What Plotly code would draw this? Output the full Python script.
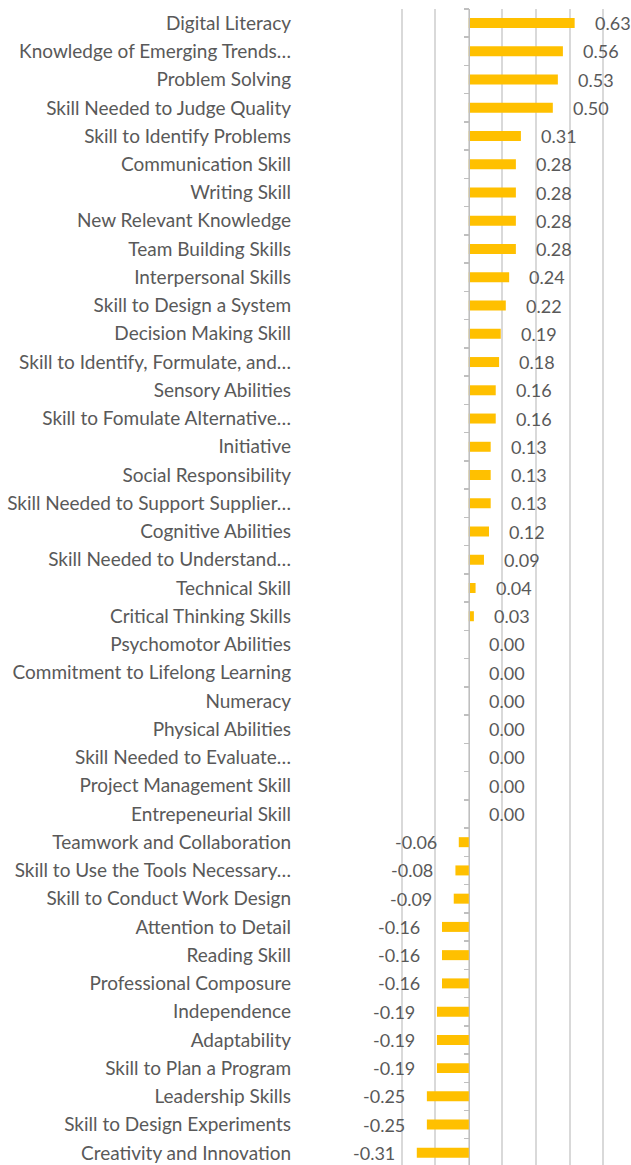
import plotly.graph_objects as go

categories = [
    "Digital Literacy", "Knowledge of Emerging Trends…", "Problem Solving",
    "Skill Needed to Judge Quality", "Skill to Identify Problems", "Communication Skill",
    "Writing Skill", "New Relevant Knowledge", "Team Building Skills",
    "Interpersonal Skills", "Skill to Design a System", "Decision Making Skill",
    "Skill to Identify, Formulate, and…", "Sensory Abilities", "Skill to Fomulate Alternative…",
    "Initiative", "Social Responsibility", "Skill Needed to Support Supplier…",
    "Cognitive Abilities", "Skill Needed to Understand…", "Technical Skill",
    "Critical Thinking Skills", "Psychomotor Abilities", "Commitment to Lifelong Learning",
    "Numeracy", "Physical Abilities", "Skill Needed to Evaluate…",
    "Project Management Skill", "Entrepeneurial Skill", "Teamwork and Collaboration",
    "Skill to Use the Tools Necessary…", "Skill to Conduct Work Design", "Attention to Detail",
    "Reading Skill", "Professional Composure", "Independence",
    "Adaptability", "Skill to Plan a Program", "Leadership Skills",
    "Skill to Design Experiments", "Creativity and Innovation",
]
values = [
    0.63, 0.56, 0.53, 0.50, 0.31, 0.28, 0.28, 0.28, 0.28, 0.24, 0.22, 0.19, 0.18,
    0.16, 0.16, 0.13, 0.13, 0.13, 0.12, 0.09, 0.04, 0.03, 0.00, 0.00, 0.00, 0.00,
    0.00, 0.00, 0.00, -0.06, -0.08, -0.09, -0.16, -0.16, -0.16, -0.19, -0.19,
    -0.19, -0.25, -0.25, -0.31,
]
value_labels = [f"{v:.2f}" for v in values]

FONT = "Lato"
TEXT_COLOR = "#595959"
X_MIN, X_MAX = -0.41, 0.9

fig = go.Figure()
fig.add_trace(go.Bar(
    x=values, y=categories, orientation="h",
    marker=dict(color="#FFC000", line=dict(width=0)),
    hoverinfo="skip",
))

annotations = []
for cat, v, lab in zip(categories, values, value_labels):
    annotations.append(dict(
        x=v, y=cat, xref="x", yref="y", text=lab, showarrow=False,
        xanchor="left" if v >= 0 else "right",
        xshift=18 if v >= 0 else -20,
        font=dict(family=FONT, size=18, color=TEXT_COLOR),
    ))

zero_pos = (0 - X_MIN) / (X_MAX - X_MIN)

fig.update_layout(
    width=631, height=1165,
    margin=dict(l=400, r=11, t=9, b=0, autoexpand=False),
    paper_bgcolor="white", plot_bgcolor="white",
    showlegend=False, hovermode=False,
    bargap=0.646,
    annotations=annotations,
    xaxis=dict(
        range=[X_MIN, X_MAX], tick0=0, dtick=0.2, automargin=False,
        showgrid=True, gridcolor="#d9d9d9", gridwidth=2,
        zeroline=False, showticklabels=False, showline=False, ticks="",
    ),
    yaxis=dict(
        type="category", categoryorder="array", categoryarray=categories,
        range=[40.43, -0.5], automargin=False,
        anchor="free", position=zero_pos,
        showline=True, linecolor="#bfbfbf", linewidth=1.5,
        ticks="outside", tickson="boundaries", ticklen=5, tickcolor="#bfbfbf", tickwidth=1.5,
        showgrid=False, zeroline=False,
        ticklabelstandoff=174,
        tickfont=dict(family=FONT, size=19, color=TEXT_COLOR),
    ),
)

fig.write_html(
    "out.html",
    config={"displayModeBar": False, "staticPlot": True},
    post_script="document.body.style.margin='0';document.body.style.overflow='hidden';",
)
